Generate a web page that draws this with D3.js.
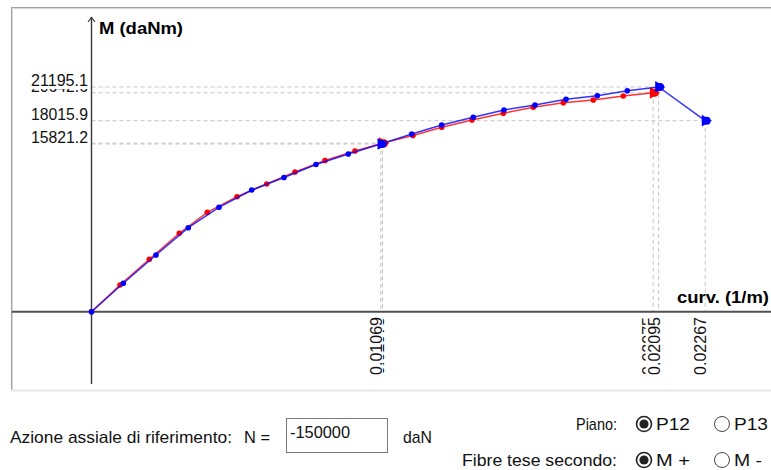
<!DOCTYPE html>
<html>
<head>
<meta charset="utf-8">
<script src="https://cdn.jsdelivr.net/npm/d3@7"></script>
<style>
  html, body { margin: 0; padding: 0; background: #fff; }
  svg { display: block; font-family: "Liberation Sans", Arial, sans-serif; }
</style>
</head>
<body>
<svg id="chart" width="771" height="470"></svg>
<script>
// curvature (1/m) and moment (daNm)
var blueCurv = [0, 0.001175, 0.002383, 0.003576, 0.00471, 0.005918, 0.007111, 0.008293, 0.009486,
  0.01069, 0.011829, 0.012937, 0.014104, 0.015238, 0.016383, 0.017529, 0.018685, 0.019793, 0.02095, 0.02267];
var blueM = [0, 2687, 5355, 7929, 9852, 11480, 12661, 13887, 14877,
  15821.2, 16763, 17611, 18337, 19025, 19497, 20034, 20374, 20845, 21195.1, 18015.9];
var redCurv = [0, 0.001053, 0.002135, 0.003243, 0.004278, 0.005375, 0.006472, 0.007518, 0.008626, 0.009734,
  0.01075, 0.011876, 0.012937, 0.014056, 0.015212, 0.016321, 0.017429, 0.018537, 0.019645, 0.02075];
var redM = [0, 2527, 4950, 7401, 9381, 10851, 12049, 13180, 14264, 15160,
  15900.4, 16622, 17394, 18083, 18714, 19280, 19713, 19968, 20345, 20642.6];

// key points (index into series) with their labels
var blueKeys = [9, 18, 19];
var redKeys = [10, 19];
var blueXLabels = ["0.01069", "0.02095", "0.02267"];
var blueYLabels = ["15821.2", "21195.1", "18015.9"];
var redXLabels = ["0.01075", "0.02075"];
var redYLabels = ["15900.4", "20642.6"];

var svg = d3.select("#chart");
var x0 = 91.5, y0 = 311.8;

var x = d3.scaleLinear().domain([0, 0.02267]).range([x0, x0 + 0.02267 * 27070]);
var y = d3.scaleLinear().domain([0, 21195.1]).range([y0, y0 - 21195.1 * 0.010607]);

// panel frame (sunken look)
svg.append("line").attr("x1", 12).attr("x2", 771).attr("y1", 7.5).attr("y2", 7.5).attr("stroke", "#a0a0a0");
svg.append("line").attr("x1", 12).attr("x2", 771).attr("y1", 8.5).attr("y2", 8.5).attr("stroke", "#d8d8d8");
svg.append("line").attr("x1", 11.5).attr("x2", 11.5).attr("y1", 7).attr("y2", 391).attr("stroke", "#a0a0a0");
svg.append("line").attr("x1", 12.5).attr("x2", 12.5).attr("y1", 8).attr("y2", 390).attr("stroke", "#d8d8d8");
svg.append("line").attr("x1", 11).attr("x2", 771).attr("y1", 390.5).attr("y2", 390.5).attr("stroke", "#e8e8e8").attr("stroke-width", 2);

function series(curv, m) {
  return curv.map(function (c, i) { return { c: c, m: m[i] }; });
}
var blue = series(blueCurv, blueM);
var red = series(redCurv, redM);

var guides = svg.append("g").attr("stroke", "#c4c4c4").attr("stroke-dasharray", "4,3").attr("fill", "none");
function drawGuides(data, keys) {
  keys.forEach(function (k) {
    var d = data[k];
    guides.append("line").attr("x1", x0).attr("x2", x(d.c)).attr("y1", y(d.m)).attr("y2", y(d.m));
    guides.append("line").attr("x1", x(d.c)).attr("x2", x(d.c)).attr("y1", y(d.m)).attr("y2", y0);
  });
}
drawGuides(red, redKeys);
drawGuides(blue, blueKeys);

// axes
svg.append("line").attr("x1", 12).attr("x2", 771).attr("y1", y0).attr("y2", y0)
  .attr("stroke", "#505050").attr("stroke-width", 2);
svg.append("line").attr("x1", x0).attr("x2", x0).attr("y1", 17).attr("y2", 384)
  .attr("stroke", "#383838").attr("stroke-width", 1.4);
svg.append("path").attr("d", "M" + (x0 - 3.5) + ",22 L" + x0 + ",17.5 L" + (x0 + 3.5) + ",22")
  .attr("fill", "none").attr("stroke", "#383838").attr("stroke-width", 1.2);

svg.append("text").attr("x", 99).attr("y", 34).attr("font-weight", "bold").attr("font-size", 17)
  .attr("textLength", 84).attr("lengthAdjust", "spacingAndGlyphs").text("M (daNm)");
svg.append("text").attr("x", 677).attr("y", 303).attr("font-weight", "bold").attr("font-size", 17)
  .attr("textLength", 92).attr("lengthAdjust", "spacingAndGlyphs").text("curv. (1/m)");

// value labels on the axes, with white backing so later ones cover earlier ones
var labels = svg.append("g").attr("font-size", 17).attr("fill", "#111");
function drawLabels(data, keys, xl, yl) {
  keys.forEach(function (k, i) {
    var d = data[k];
    var gy = labels.append("g").attr("transform", "translate(88," + (y(d.m) - 1) + ")");
    gy.append("rect").attr("x", -60).attr("y", -15).attr("width", 60).attr("height", 18).attr("fill", "#fff");
    gy.append("text").attr("text-anchor", "end").attr("textLength", 57).attr("lengthAdjust", "spacingAndGlyphs").text(yl[i]);
    var gx = labels.append("g").attr("transform", "translate(" + (x(d.c) + 1) + ",317) rotate(-90)");
    gx.append("rect").attr("x", -60).attr("y", -14).attr("width", 60).attr("height", 15).attr("fill", "#fff");
    gx.append("text").attr("text-anchor", "end").attr("textLength", 58).attr("lengthAdjust", "spacingAndGlyphs").text(xl[i]);
  });
}
drawLabels(red, redKeys, redXLabels, redYLabels);
drawLabels(blue, blueKeys, blueXLabels, blueYLabels);

// curves
var line = d3.line().x(function (d) { return x(d.c); }).y(function (d) { return y(d.m); });
function drawSeries(data, keys, col) {
  svg.append("path").datum(data).attr("d", line).attr("fill", "none")
    .attr("stroke", col).attr("stroke-width", 1.5).attr("stroke-opacity", 0.8);
  svg.append("g").selectAll("circle").data(data).join("circle")
    .attr("cx", function (d) { return x(d.c); }).attr("cy", function (d) { return y(d.m); })
    .attr("r", 2.8).attr("fill", col);
  var big = svg.append("g").selectAll("g").data(keys.map(function (k) { return data[k]; })).join("g")
    .attr("transform", function (d) { return "translate(" + x(d.c) + "," + y(d.m) + ")"; })
    .attr("fill", col);
  big.append("path").attr("d", d3.symbol().type(d3.symbolTriangle).size(60)).attr("transform", "rotate(90)");
  big.append("circle").attr("cx", 1.5).attr("r", 4);
}
drawSeries(red, redKeys, "#ff0000");
drawSeries(blue, blueKeys, "#0000ff");

// form controls under the chart
var form = svg.append("g").attr("font-size", 17).attr("fill", "#111");
form.append("text").attr("x", 10).attr("y", 443).attr("textLength", 222).attr("lengthAdjust", "spacingAndGlyphs")
  .text("Azione assiale di riferimento:");
form.append("text").attr("x", 244).attr("y", 443).attr("textLength", 26).attr("lengthAdjust", "spacingAndGlyphs").text("N =");
form.append("rect").attr("x", 286.5).attr("y", 418.5).attr("width", 101).attr("height", 34)
  .attr("fill", "#fff").attr("stroke", "#7a7a7a");
form.append("text").attr("x", 290).attr("y", 438).attr("textLength", 60).attr("lengthAdjust", "spacingAndGlyphs").text("-150000");
form.append("text").attr("x", 403).attr("y", 443).attr("textLength", 29).attr("lengthAdjust", "spacingAndGlyphs").text("daN");

form.append("text").attr("x", 617).attr("y", 430).attr("text-anchor", "end")
  .attr("textLength", 41).attr("lengthAdjust", "spacingAndGlyphs").text("Piano:");
form.append("text").attr("x", 617).attr("y", 466).attr("text-anchor", "end")
  .attr("textLength", 155).attr("lengthAdjust", "spacingAndGlyphs").text("Fibre tese secondo:");

var radios = [
  { cx: 644, cy: 424, on: true, label: "P12", w: 34 },
  { cx: 722, cy: 424, on: false, label: "P13", w: 34 },
  { cx: 644, cy: 460, on: true, label: "M +", w: 34 },
  { cx: 722, cy: 460, on: false, label: "M -", w: 28 }
];
radios.forEach(function (r) {
  form.append("circle").attr("cx", r.cx).attr("cy", r.cy).attr("r", 7.5)
    .attr("fill", "#fff").attr("stroke", r.on ? "#222" : "#444").attr("stroke-width", r.on ? 1.6 : 1);
  if (r.on) form.append("circle").attr("cx", r.cx).attr("cy", r.cy).attr("r", 4.6).attr("fill", "#222");
  form.append("text").attr("x", r.cx + 12).attr("y", r.cy + 6)
    .attr("textLength", r.w).attr("lengthAdjust", "spacingAndGlyphs").text(r.label);
});
</script>
</body>
</html>
